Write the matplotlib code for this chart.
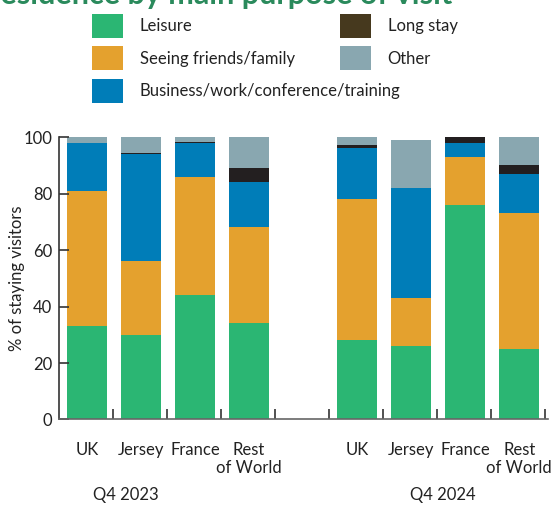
import numpy as np
import matplotlib
matplotlib.use("Agg")
import matplotlib.pyplot as plt
import matplotlib.transforms as mtransforms
from matplotlib.patches import Patch

plt.rcParams['font.family'] = ['Lato', 'DejaVu Sans']

# data (% of staying visitors)
countries = ["UK", "Jersey", "France", "Rest\nof World"]
periods = ["Q4 2023", "Q4 2024"]
purposes = ["Leisure", "Seeing friends/family", "Business/work/conference/training", "Long stay", "Other"]

leisure_2023 = [33, 30, 44, 34]
seeing_2023 = [48, 26, 42, 34]
business_2023 = [17, 38, 12, 16]
longstay_2023 = [0, 0.3, 0.3, 5]
other_2023 = [2, 5.7, 1.7, 11]

leisure_2024 = [28, 26, 76, 25]
seeing_2024 = [50, 17, 17, 48]
business_2024 = [18, 39, 5, 14]
longstay_2024 = [1.1, 0, 2, 3]
other_2024 = [2.9, 17, 0, 10]

bar_colors = ["#2bb673", "#e4a12e", "#007db8", "#231f20", "#89a7b0"]
legend_colors = ["#2bb673", "#e4a12e", "#007db8", "#46391e", "#89a7b0"]

fig = plt.figure(figsize=(5.58, 5.07), dpi=100)
ax = fig.add_axes([0.1057, 0.1726, 0.876, 0.557])

groups = [
    [leisure_2023, seeing_2023, business_2023, longstay_2023, other_2023],
    [leisure_2024, seeing_2024, business_2024, longstay_2024, other_2024],
]

# slot positions: 4 bars, one empty slot, 4 bars
x_2023 = np.arange(4) + 0.52
x_2024 = np.arange(4) + 5.52
width = 0.74

for xs, grp in [(x_2023, groups[0]), (x_2024, groups[1])]:
    bottom = np.zeros(4)
    for vals, col in zip(grp, bar_colors):
        vals = np.array(vals, dtype=float)
        ax.bar(xs, vals, width=width, bottom=bottom, color=col, linewidth=0)
        bottom += vals

ax.set_xlim(0, 9.05)
ax.set_ylim(0, 100)
ax.set_yticks([0, 20, 40, 60, 80, 100])
ax.set_xticks(list(x_2023) + list(x_2024))
ax.set_xticklabels(countries + countries, fontsize=12, color="#222222")
ax.set_xticks(np.arange(1, 10), minor=True)
ax.tick_params(axis="x", which="major", length=0, pad=16)
ax.tick_params(axis="x", which="minor", direction="in", length=7, width=1.2, color="#333333")
ax.tick_params(axis="y", direction="in", length=7, width=1.2, color="#333333",
               labelsize=12, labelcolor="#222222", pad=5)
for lab in ax.get_xticklabels():
    lab.set_multialignment("center")

for s in ["top", "right"]:
    ax.spines[s].set_visible(False)
ax.spines["left"].set_color("#333333")
ax.spines["bottom"].set_color("#666666")
ax.spines["left"].set_linewidth(1.2)
ax.spines["bottom"].set_linewidth(1.2)

ax.set_ylabel("% of staying visitors", fontsize=12, color="#222222")
ax.yaxis.set_label_coords(-0.07, 0.5)

trans = mtransforms.blended_transform_factory(ax.transData, fig.transFigure)
ax.text(1.24, 0.024, periods[0], transform=trans, ha="center", va="center", fontsize=12, color="#222222")
ax.text(7.11, 0.024, periods[1], transform=trans, ha="center", va="center", fontsize=12, color="#222222")

# legend in two blocks
handles = [Patch(facecolor=c, edgecolor="none") for c in legend_colors]
leg_kw = dict(loc="upper left", frameon=False, fontsize=12, handlelength=1.86, handleheight=1.84,
              handletextpad=1.0, labelspacing=0.5, borderaxespad=0, borderpad=0)
leg1 = fig.legend(handles[:3], purposes[:3], bbox_to_anchor=(92 / 558, 1 - 14 / 507), **leg_kw)
leg2 = fig.legend(handles[3:], purposes[3:], bbox_to_anchor=(340 / 558, 1 - 14 / 507), **leg_kw)
for t in leg1.get_texts() + leg2.get_texts():
    t.set_color("#222222")

# title, cut off at top as in the source image
fig.text(452 / 558, 1 - 4 / 507, "residence by main purpose of visit", ha="right", va="baseline",
         fontsize=22, fontweight="bold", color="#2a8a5c")

fig.savefig("out.png", dpi=100)
